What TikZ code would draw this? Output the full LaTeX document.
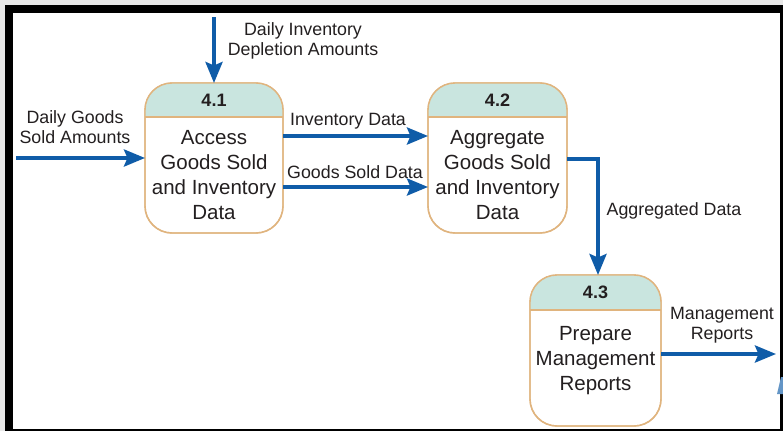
\documentclass[tikz,border=0pt]{standalone}
\usepackage{fontspec}
\setmainfont{Liberation Sans}
\usetikzlibrary{arrows.meta}
\definecolor{flowblue}{HTML}{0F5CA8}
\definecolor{boxedge}{HTML}{E0B47E}
\definecolor{boxhead}{HTML}{C9E5DF}
\definecolor{inkgray}{HTML}{231F20}
\tikzset{
  proc/.style={draw=boxedge,line width=1.4pt,rounded corners=27pt,inner sep=0pt,outer sep=0pt},
  edge/.style={draw=boxedge,line width=1.4pt},
  flow/.style={draw=flowblue,line width=3.8pt,-{Stealth[length=21pt,width=17pt,inset=3.5pt]}},
  numtxt/.style={text=inkgray,font=\fontsize{18}{20}\selectfont\bfseries},
  proctxt/.style={text=inkgray,align=center,font=\fontsize{20.5}{25}\selectfont},
  flowtxt/.style={text=inkgray,align=center,font=\fontsize{17.8}{20.5}\selectfont}
}
\begin{document}
\begin{tikzpicture}[x=1pt,y=-1pt]
				\useasboundingbox (0,0) rectangle (783,431);
				% frame
				\fill[black!9] (0,0) rectangle (783,431);
				\fill[black] (5,4.5) rectangle (783,431);
				\fill[white] (12.5,12.5) rectangle (780,429);
				% processes
				\node[proc,minimum width=138pt,minimum height=150pt] (p41) at (214,158) {};
				\node[proc,minimum width=139pt,minimum height=150pt] (p42) at (497.5,158) {};
				\node[proc,minimum width=131pt,minimum height=151pt] (p43) at (595.5,350.5) {};
				\foreach \p/\h in {p41/34,p42/34,p43/35} {
					\begin{scope}
						\clip[rounded corners=27pt] (\p.north west) rectangle (\p.south east);
						\fill[boxhead] (\p.north west) rectangle ([yshift=-\h pt]\p.north east);
					\end{scope}
					\draw[edge] ([yshift=-\h pt]\p.north west) -- ([yshift=-\h pt]\p.north east);
					\draw[edge,rounded corners=27pt] (\p.north west) rectangle (\p.south east);
				}
				\node[numtxt] (n41) at (214,100) {4.1};
				\node[numtxt] (n42) at (497.5,100) {4.2};
				\node[numtxt] (n43) at (595.5,292.5) {4.3};
				\node[proctxt] (t41) at (214,175) {Access\\Goods Sold\\and Inventory\\Data};
				\node[proctxt] (t42) at (497.5,175) {Aggregate\\Goods Sold\\and Inventory\\Data};
				\node[proctxt] (t43) at (595.5,361) {Prepare\\Management\\Reports};
				% data flows
				\coordinate (dep) at (214,17);
				\coordinate (dgs) at (16,158);
				\coordinate (mgr) at (776,354);
				\draw[flow] (dep) -- (p41.north);
				\draw[flow] (dgs) -- (p41.west);
				\draw[flow] ([yshift=22pt]p41.east) -- ([yshift=22pt]p42.west);
				\draw[flow] ([yshift=-29pt]p41.east) -- ([yshift=-29pt]p42.west);
				\draw[flow] ([yshift=-1pt]p42.east) -| ([xshift=2.5pt]p43.north);
				\draw[flow] ([yshift=-3.5pt]p43.east) -- (mgr);
				\node[flowtxt] (l1) at (303,41) {Daily Inventory\\Depletion Amounts};
				\node[flowtxt] (l2) at (75,127) {Daily Goods\\Sold Amounts};
				\node[flowtxt] (l3) at (348,121) {Inventory Data};
				\node[flowtxt] (l4) at (355,172) {Goods Sold Data};
				\node[flowtxt] (l5) at (674,211) {Aggregated Data};
				\node[flowtxt] (l6) at (722,325) {Management\\Reports};
				% cut-off arrow at the edge
				\fill[flowblue!65] (777,394) -- (781,377) -- (783,377) -- (783,394) -- cycle;
				\end{tikzpicture}
\end{document}
